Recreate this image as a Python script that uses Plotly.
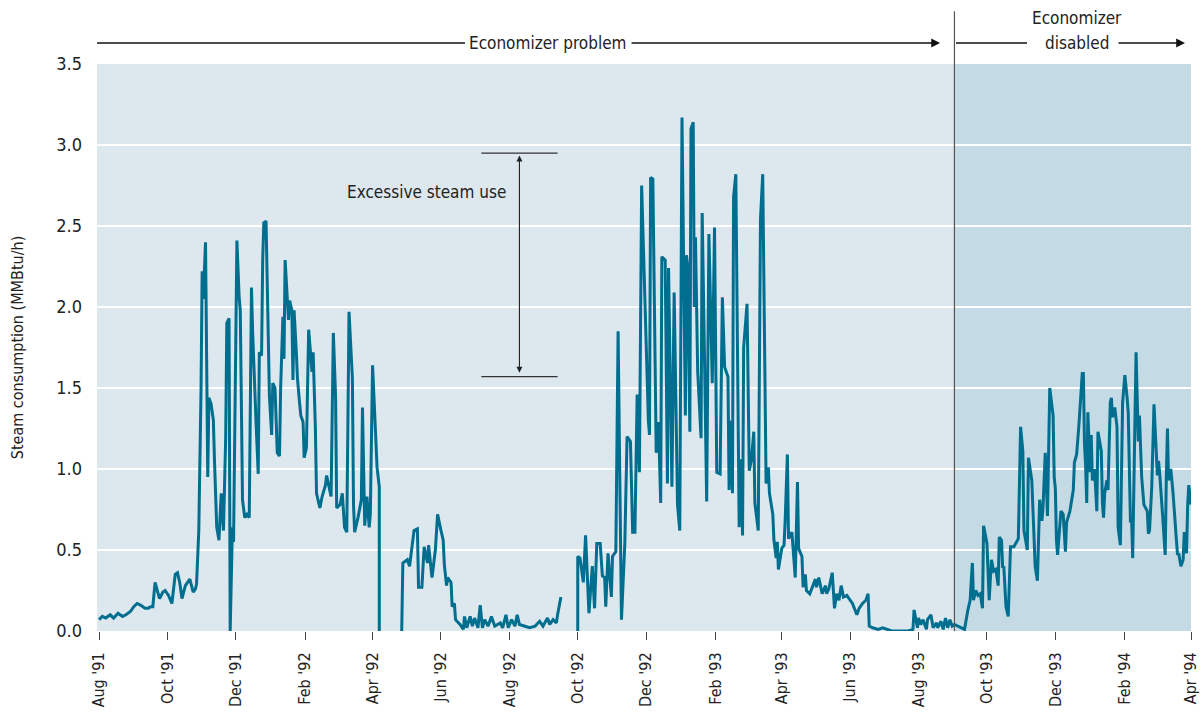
import pandas as pd
import plotly.graph_objects as go

# ---------------- data ----------------
START = "1991-08-01"
# Aug '91 - Apr '92 heating season (days since Aug 1 1991)
days_a = [0,3,6,10,13,17,21,24,28,31,34,37,41,44,46,48,50,53,54,57,59,62,65,68,70,72,74,77,79,81,84,86,87,89,
          91,92,93,94,95,97,98,100,102,103,105,107,109,111,112,113,114,116,117,119,120,123,125,126,128,130,132,134,
          136,137,140,142,143,145,146,147,149,152,154,155,157,159,161,162,164,165,166,169,170,172,173,174,176,177,
          179,180,182,183,185,187,190,191,193,194,197,199,202,203,207,209,211,212,215,217,219,221,223,226,227,228,
          231,234,235,237,239,241,242,244,248,250,250]
vals_a = [0.07,0.09,0.08,0.10,0.08,0.11,0.09,0.10,0.12,0.15,0.17,0.16,0.14,0.14,0.15,0.15,0.30,0.22,0.20,0.24,0.25,0.22,0.17,0.35,0.36,0.30,0.20,0.28,0.30,0.32,0.24,0.26,0.29,0.62,
          1.49,2.22,2.05,2.30,2.40,0.95,1.44,1.40,1.30,1.05,0.64,0.56,0.85,0.62,0.97,1.20,1.90,1.93,0.00,0.64,0.55,2.41,2.06,1.98,0.81,0.70,0.72,0.70,
          2.12,1.85,1.30,0.97,1.72,1.70,2.29,2.52,2.53,1.45,1.21,1.53,1.50,1.10,1.08,1.50,1.94,1.68,2.29,1.92,2.04,1.98,1.55,1.98,1.72,1.56,
          1.40,1.33,1.29,1.07,1.13,1.86,1.60,1.72,1.25,0.85,0.76,0.83,0.90,0.96,0.83,1.84,1.45,0.76,0.78,0.85,0.64,0.61,1.97,1.56,0.78,0.61,
          0.70,0.81,1.38,0.65,0.83,0.64,0.72,1.64,1.01,0.89,0.00]

# May '92 - Sep '92
days_b = [270,271,275,277,281,284,285,288,290,293,294,297,300,302,305,307,308,310,311,314,315,317,318,322,325,326,328,
          331,333,335,338,340,342,344,347,350,353,358,360,363,365,368,371,373,375,380,384,389,393,396,400,402,405,408,409,412]
vals_b = [0.00,0.42,0.44,0.40,0.62,0.63,0.27,0.27,0.52,0.42,0.53,0.33,0.50,0.72,0.62,0.56,0.41,0.28,0.33,0.30,0.15,0.17,0.07,0.04,0.01,0.09,0.02,
          0.09,0.03,0.08,0.02,0.16,0.02,0.07,0.03,0.09,0.03,0.05,0.02,0.10,0.02,0.07,0.03,0.10,0.04,0.03,0.02,0.03,0.06,0.03,0.08,0.04,0.07,0.05,0.10,0.21]

# Sep '92 - Apr '94
days_c = [427,427,429,432,434,437,440,442,444,447,449,451,452,454,457,458,461,462,463,466,469,471,474,476,478,480,482,484,488,490,491,492,494,
          497,499,501,502,505,507,508,511,513,516,518,520,523,524,525,527,528,530,531,532,534,537,538,540,542,544,547,549,551,554,556,558,
          561,562,564,565,566,568,571,573,574,575,578,580,582,584,585,588,590,592,595,597,598,601,602,604,605,606,609,611,612,614,615,618,
          619,621,623,624,627,628,630,631,634,637,639,640,642,645,648,649,651,654,656,658,660,662,664,667,670,672,676,678,681,684,686,687,
          690,695,699,703,707,714,722,726,727,730,731,733,735,738,739,742,744,747,748,751,753,755,757,759,761,763,766,770,772,775,777,778,
          779,780,782,784,786,788,789,792,794,796,798,800,802,803,805,806,807,809,811,813,816,820,822,824,825,828,829,832,833,835,837,838,
          839,841,842,844,846,848,851,852,853,854,855,858,860,862,863,866,868,869,870,872,874,877,878,879,880,881,882,884,885,886,888,890,
          891,894,895,896,897,899,900,902,903,904,906,908,909,911,913,915,917,918,920,921,922,925,927,928,930,932,935,936,937,939,941,944,
          945,946,949,951,952,953,954,956,958,960,961,962,963,965,967,968,970,971,972,974]
vals_c = [0.00,0.46,0.45,0.30,0.59,0.11,0.40,0.14,0.54,0.54,0.34,0.33,0.15,0.48,0.21,0.46,0.49,1.41,1.85,0.07,0.54,1.20,1.17,0.61,0.61,1.46,0.98,2.75,1.77,1.30,1.21,2.80,2.79,
          1.10,1.29,0.79,2.31,2.29,0.91,2.24,0.89,2.09,0.78,0.62,3.17,1.33,2.32,2.26,1.23,3.10,3.14,2.00,2.43,1.60,1.19,2.58,1.72,0.80,2.45,1.53,2.49,0.98,0.97,2.06,1.63,
          1.57,0.87,1.30,0.85,2.68,2.82,0.64,1.06,0.59,1.75,2.02,0.99,1.06,1.23,0.79,0.62,2.54,2.82,0.91,1.01,0.85,0.72,0.56,0.45,0.55,0.38,0.51,0.53,0.68,1.09,0.57,0.61,
          0.50,0.33,0.92,0.51,0.46,0.27,0.35,0.25,0.23,0.28,0.32,0.27,0.33,0.23,0.28,0.23,0.26,0.36,0.14,0.23,0.19,0.28,0.21,0.22,0.19,0.17,0.10,0.14,0.17,0.19,0.23,0.03,
          0.02,0.01,0.02,0.01,0.00,0.00,0.00,0.01,0.13,0.02,0.08,0.04,0.07,0.01,0.07,0.10,0.02,0.05,0.02,0.06,0.01,0.08,0.02,0.07,0.03,0.04,0.03,0.02,0.01,0.13,0.19,0.31,
          0.42,0.19,0.25,0.22,0.23,0.14,0.65,0.54,0.19,0.44,0.37,0.38,0.28,0.58,0.56,0.39,0.40,0.15,0.09,0.52,0.52,0.57,1.26,1.11,0.62,0.50,1.07,0.93,0.78,0.40,0.31,0.57,
          0.81,0.68,0.76,1.10,0.71,1.50,1.33,0.95,0.88,0.56,0.47,0.74,0.72,0.49,0.67,0.74,0.83,0.87,1.04,1.09,1.27,1.59,1.59,1.16,1.02,0.79,1.35,0.98,1.21,0.93,1.00,0.74,
          1.23,1.11,0.79,0.70,0.85,0.93,0.87,1.41,1.44,1.32,1.38,1.26,0.64,0.53,1.41,1.58,1.44,1.35,0.67,0.70,0.45,1.72,1.17,1.33,0.95,0.78,0.74,0.60,0.62,0.89,1.40,0.96,
          1.05,0.98,0.68,0.47,0.96,1.25,0.93,1.00,0.85,0.62,0.56,0.47,0.48,0.40,0.44,0.61,0.48,0.77,0.90,0.78]

economizer_disabled = "1993-09-02"
y_ticks = [0.0, 0.5, 1.0, 1.5, 2.0, 2.5, 3.0, 3.5]

# ---------------- build ----------------
def to_dates(d):
    return list(pd.Timestamp(START) + pd.to_timedelta(d, unit="D"))

x = to_dates(days_a) + [None] + to_dates(days_b) + [None] + to_dates(days_c)
y = vals_a + [None] + vals_b + [None] + vals_c

FONT = "Liberation Sans Narrow, DejaVu Sans Condensed, Roboto, Arial, sans-serif"
LINE = "#006e8f"
TXT = "#222222"

fig = go.Figure()
fig.add_trace(go.Scatter(x=x, y=y, mode="lines", connectgaps=False,
                         line=dict(color=LINE, width=3), hoverinfo="skip", showlegend=False))

shapes = [
    dict(type="rect", xref="x", yref="paper", x0=economizer_disabled, x1="1994-04-01",
         y0=0, y1=1, fillcolor="#c4dae4", line=dict(width=0), layer="below"),
    dict(type="line", xref="x", yref="paper", x0=economizer_disabled, x1=economizer_disabled,
         y0=0, y1=1.093, line=dict(color="#555555", width=1.2)),
    # top arrows (paper coords)
    dict(type="line", xref="paper", yref="paper", x0=0.0, x1=0.3364, y0=1.037, y1=1.037,
         line=dict(color="#111111", width=1.6)),
    dict(type="line", xref="paper", yref="paper", x0=0.7852, x1=0.8501, y0=1.037, y1=1.037,
         line=dict(color="#111111", width=1.6)),
    # excessive steam use brackets
    dict(type="line", xref="x", yref="y", x0="1992-07-07", x1="1992-09-13", y0=2.95, y1=2.95,
         line=dict(color="#333333", width=1.2)),
    dict(type="line", xref="x", yref="y", x0="1992-07-07", x1="1992-09-13", y0=1.57, y1=1.57,
         line=dict(color="#333333", width=1.2)),
]

annotations = [
    dict(xref="paper", yref="paper", x=0.4122, y=1.037, text="Economizer problem", showarrow=False,
         font=dict(size=17, color=TXT, family=FONT), xanchor="center", yanchor="middle"),
    dict(xref="paper", yref="paper", x=0.7706, y=1.037, ax=-310, ay=0, text="", showarrow=True,
         arrowhead=2, arrowsize=1.1, arrowwidth=1.6, arrowcolor="#111111"),
    dict(xref="paper", yref="paper", x=0.8958, y=1.081, text="Economizer", showarrow=False,
         font=dict(size=17, color=TXT, family=FONT), xanchor="center", yanchor="middle"),
    dict(xref="paper", yref="paper", x=0.8958, y=1.037, text="disabled", showarrow=False,
         font=dict(size=17, color=TXT, family=FONT), xanchor="center", yanchor="middle"),
    dict(xref="paper", yref="paper", x=0.9945, y=1.037, ax=-68, ay=0, text="", showarrow=True,
         arrowhead=2, arrowsize=1.1, arrowwidth=1.6, arrowcolor="#111111"),
    dict(xref="x", yref="y", x="1992-08-10", y=2.935, axref="x", ayref="y", ax="1992-08-10", ay=1.585,
         text="", showarrow=True, arrowhead=2, startarrowhead=2, arrowside="end+start",
         arrowsize=1.1, arrowwidth=1.1, arrowcolor="#222222"),
    dict(xref="x", yref="y", x="1992-07-31", y=2.71, text="Excessive steam use", showarrow=False,
         font=dict(size=17, color=TXT, family=FONT), xanchor="right", yanchor="middle"),
]

fig.update_layout(
    width=1204, height=713,
    margin=dict(l=97, r=13, t=64, b=82, autoexpand=False),
    paper_bgcolor="white", plot_bgcolor="#dce8ee",
    font=dict(family=FONT, color=TXT),
    shapes=shapes, annotations=annotations, showlegend=False,
)
fig.update_xaxes(
    type="date", range=["1991-07-30 05:00", "1994-04-01"], automargin=False,
    tick0="1991-08-01", dtick="M2", tickformat="%b '%y", tickangle=-90,
    ticks="outside", ticklen=8, tickcolor="#444444", tickwidth=1, ticklabelstandoff=6,
    showgrid=False, zeroline=False, showline=False,
    tickfont=dict(size=16, color=TXT, family=FONT),
)
fig.update_yaxes(
    range=[0, 3.5], tickvals=y_ticks, tickformat=".1f", automargin=False,
    showgrid=True, gridcolor="white", gridwidth=1.5, zeroline=False, showline=False,
    ticks="", ticklabelstandoff=14, tickfont=dict(size=18, color=TXT, family=FONT),
    title=dict(text="Steam consumption (MMBtu/h)", font=dict(size=16, color=TXT, family=FONT), standoff=28),
)

fig.write_html(
    "out.html",
    config={"displayModeBar": False, "staticPlot": True},
    post_script="document.body.style.margin='0';document.body.style.overflow='hidden';",
)
